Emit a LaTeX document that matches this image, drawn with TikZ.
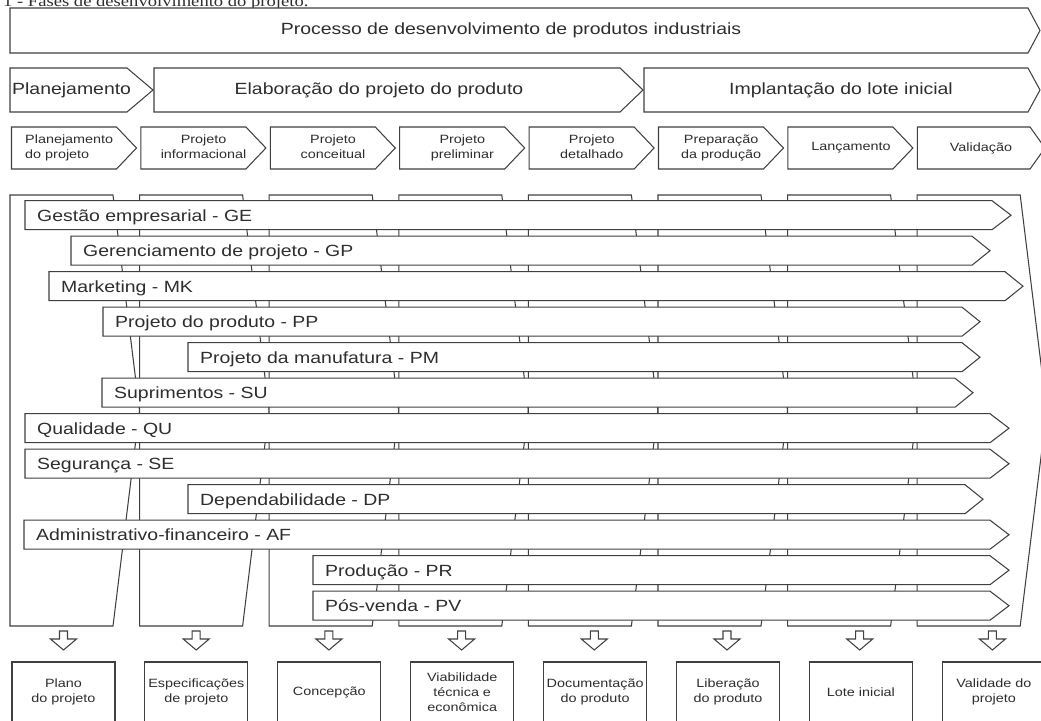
\documentclass[tikz,border=0pt]{standalone}
\usepackage{fontspec}
\setmainfont{Liberation Sans}
\newfontfamily\capfont{Liberation Serif}
\usepackage{graphicx}
\newcommand{\hs}[1]{\scalebox{1.2}[1]{#1}}
\newcommand{\bigf}{\fontsize{16.2}{19}\selectfont}
\newcommand{\smallf}{\fontsize{12}{15}\selectfont}
\newcommand{\penta}[5]{\draw[shp] (#1,#2) -- (#3,#2) -- (#4,{(#2+#5)/2}) -- (#3,#5) -- (#1,#5) -- cycle;}
\tikzset{
  shp/.style={draw=black!75, line width=1.05pt, fill=white, line join=miter},
  lbl/.style={inner sep=0pt, text=black!82},
}
\begin{document}
\begin{tikzpicture}[x=1pt, y=-1pt]
\useasboundingbox (0,0) rectangle (1041,720);
% caption (cut off at top, as in the reference)
\node[lbl, anchor=base west] (cap) at (3,6.5) {\capfont\fontsize{15.5}{18}\selectfont\hs{1 - Fases de desenvolvimento do projeto.}};
% row 1
\penta{10}{8}{1028}{1040}{53}
\node[lbl] (proc) at (511,30.5) {\bigf\hs{Processo de desenvolvimento de produtos industriais}};
% row 2
\penta{10}{68}{127}{153}{112}
\penta{154}{68}{620}{643}{112}
\penta{644}{68}{1028}{1040}{112}
\node[lbl, anchor=west] (plan) at (12,90) {\bigf\hs{Planejamento}};
\node[lbl] (elab) at (379,90) {\bigf\hs{Elaboração do projeto do produto}};
\node[lbl] (impl) at (841,90) {\bigf\hs{Implantação do lote inicial}};
% row 3 (phases)
\foreach \i in {0,...,6} {
  \pgfmathsetmacro\L{11.5+129.4*\i}
  \pgfmathsetmacro\S{\L+105}
  \pgfmathsetmacro\T{\L+125}
  \penta{\L}{127}{\S}{\T}{169}
}
\penta{917.3}{127}{1030}{1045}{169}
\node[lbl, anchor=west] (f1) at (25,148) {\smallf\hs{\begin{tabular}{@{}l@{}}Planejamento\\do projeto\end{tabular}}};
\node[lbl] (f2) at (203.6,148) {\smallf\hs{\begin{tabular}{@{}c@{}}Projeto\\informacional\end{tabular}}};
\node[lbl] (f3) at (333,148) {\smallf\hs{\begin{tabular}{@{}c@{}}Projeto\\conceitual\end{tabular}}};
\node[lbl] (f4) at (462.4,148) {\smallf\hs{\begin{tabular}{@{}c@{}}Projeto\\preliminar\end{tabular}}};
\node[lbl] (f5) at (591.8,148) {\smallf\hs{\begin{tabular}{@{}c@{}}Projeto\\detalhado\end{tabular}}};
\node[lbl] (f6) at (721.2,148) {\smallf\hs{\begin{tabular}{@{}c@{}}Preparação\\da produção\end{tabular}}};
\node[lbl] (f7) at (851,148) {\smallf\hs{Lançamento}};
\node[lbl] (f8) at (981,148) {\smallf\hs{Validação}};
% background columns
\foreach \i in {0,...,7} {
  \pgfmathsetmacro\L{10+129.6*\i}
  \pgfmathsetmacro\S{\L+103}
  \pgfmathsetmacro\T{\L+129.5}
  \penta{\L}{195}{\S}{\T}{626}
}
% department arrows
\foreach \k/\lf/\st/\tp/\nm/\txt in {
  0/25/992/1011/ge/{Gestão empresarial - GE},
  1/71/972/990/gp/{Gerenciamento de projeto - GP},
  2/49/1005/1023/mk/{Marketing - MK},
  3/103/962/980/pp/{Projeto do produto - PP},
  4/188/962/980/pm/{Projeto da manufatura - PM},
  5/102/955/973/su/{Suprimentos - SU},
  6/25/990/1009/qu/{Qualidade - QU},
  7/25/990/1009/se/{Segurança - SE},
  8/188/965/983/dp/{Dependabilidade - DP},
  9/24/990/1009/af/{Administrativo-financeiro - AF},
  10/313/990/1009/pr/{Produção - PR},
  11/313/990/1009/pv/{Pós-venda - PV}} {
  \pgfmathsetmacro\yt{200.7+35.5*\k}
  \pgfmathsetmacro\yb{\yt+29}
  \penta{\lf}{\yt}{\st}{\tp}{\yb}
  \node[lbl, anchor=base west] (\nm) at ({\lf+12},{\yt+14.5+5.8}) {\bigf\hs{\txt}};
}
% down arrows and output boxes
\foreach \i in {0,...,7} {
  \pgfmathsetmacro\c{63.5+132.7*\i}
  \draw[shp] ({\c-4},631) -- ({\c+4},631) -- ({\c+4},639) -- ({\c+13},639) -- (\c,650) -- ({\c-13},639) -- ({\c-4},639) -- cycle;
  \pgfmathsetmacro\L{12+132.9*\i}
  \draw[shp] (\L,662) rectangle ({\L+103},730);
}
\node[lbl] (o1) at (63.5,692) {\smallf\hs{\begin{tabular}{@{}c@{}}Plano\\do projeto\end{tabular}}};
\node[lbl] (o2) at (196.4,692) {\smallf\hs{\begin{tabular}{@{}c@{}}Especificações\\de projeto\end{tabular}}};
\node[lbl] (o3) at (329.3,692) {\smallf\hs{Concepção}};
\node[lbl] (o4) at (462.2,693) {\smallf\hs{\begin{tabular}{@{}c@{}}Viabilidade\\técnica e\\econômica\end{tabular}}};
\node[lbl] (o5) at (595.1,692) {\smallf\hs{\begin{tabular}{@{}c@{}}Documentação\\do produto\end{tabular}}};
\node[lbl] (o6) at (728,692) {\smallf\hs{\begin{tabular}{@{}c@{}}Liberação\\do produto\end{tabular}}};
\node[lbl] (o7) at (860.9,692) {\smallf\hs{Lote inicial}};
\node[lbl] (o8) at (993.8,692) {\smallf\hs{\begin{tabular}{@{}c@{}}Validade do\\projeto\end{tabular}}};
\end{tikzpicture}
\end{document}
